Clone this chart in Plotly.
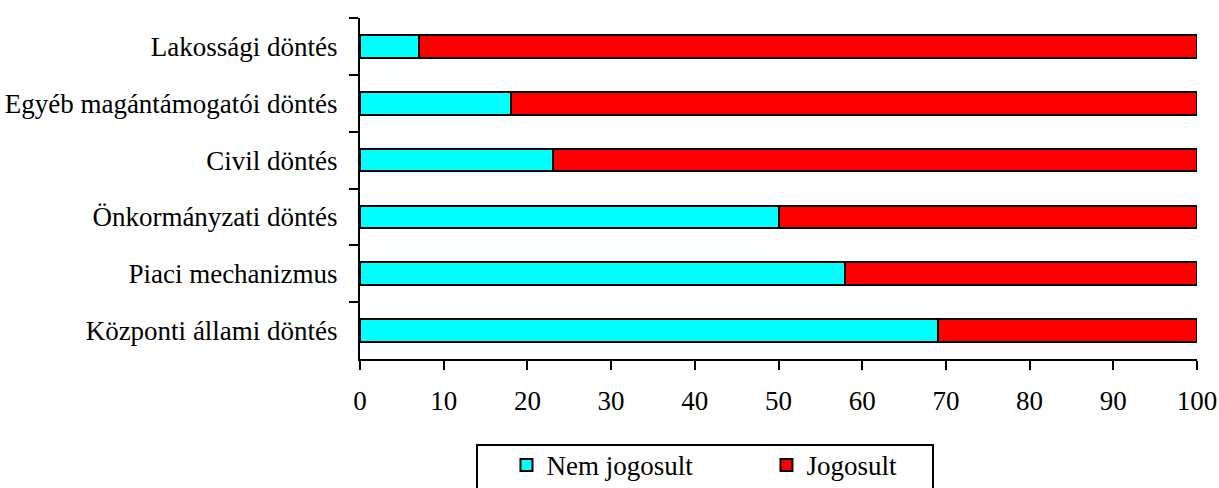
import plotly.graph_objects as go

# Decision types, listed top to bottom
categories = [
    "Lakossági döntés",
    "Egyéb magántámogatói döntés",
    "Civil döntés",
    "Önkormányzati döntés",
    "Piaci mechanizmus",
    "Központi állami döntés",
]
nem_jogosult = [7, 18, 23, 50, 58, 69]
jogosult = [93, 82, 77, 50, 42, 31]
x_ticks = [0, 10, 20, 30, 40, 50, 60, 70, 80, 90, 100]

FONT = dict(family="Liberation Serif, Times New Roman, serif", size=27, color="black")

fig = go.Figure()
fig.add_trace(go.Bar(
    y=categories, x=nem_jogosult, orientation="h", name="Nem jogosult",
    marker=dict(color="#00FFFF", line=dict(color="black", width=2)), width=0.4,
))
fig.add_trace(go.Bar(
    y=categories, x=jogosult, orientation="h", name="Jogosult",
    marker=dict(color="#FF0000", line=dict(color="black", width=2)), width=0.4,
))

fig.update_layout(
    barmode="stack",
    width=1219, height=488,
    margin=dict(l=360, r=22, t=18, b=129, autoexpand=False),
    paper_bgcolor="white", plot_bgcolor="white",
    font=FONT,
    showlegend=True,
    legend=dict(
        orientation="h", x=0.175, xanchor="left", y=-0.24, yanchor="top",
        entrywidth=215, entrywidthmode="pixels",
        borderwidth=0, bgcolor="rgba(0,0,0,0)", font=FONT,
        traceorder="normal",
    ),
    xaxis=dict(
        range=[0, 100], tickvals=x_ticks, ticktext=[str(v) for v in x_ticks],
        showline=True, linecolor="black", linewidth=2,
        ticks="outside", ticklen=9, tickwidth=2, tickcolor="black",
        ticklabelstandoff=8,
        showgrid=False, zeroline=False, fixedrange=True,
    ),
    yaxis=dict(
        type="category", categoryorder="array", categoryarray=categories,
        autorange="reversed",
        showline=True, linecolor="black", linewidth=2,
        ticks="outside", ticklen=9, tickwidth=2, tickcolor="black",
        tickson="boundaries", ticklabelstandoff=15,
        showgrid=False, zeroline=False,
    ),
    shapes=[dict(
        type="rect", xref="paper", yref="paper",
        x0=0.1398, x1=0.6846, y0=-0.2522, y1=-0.45,
        line=dict(color="black", width=2), fillcolor="rgba(0,0,0,0)", layer="above",
    )],
)

fig.write_html("out.html")
